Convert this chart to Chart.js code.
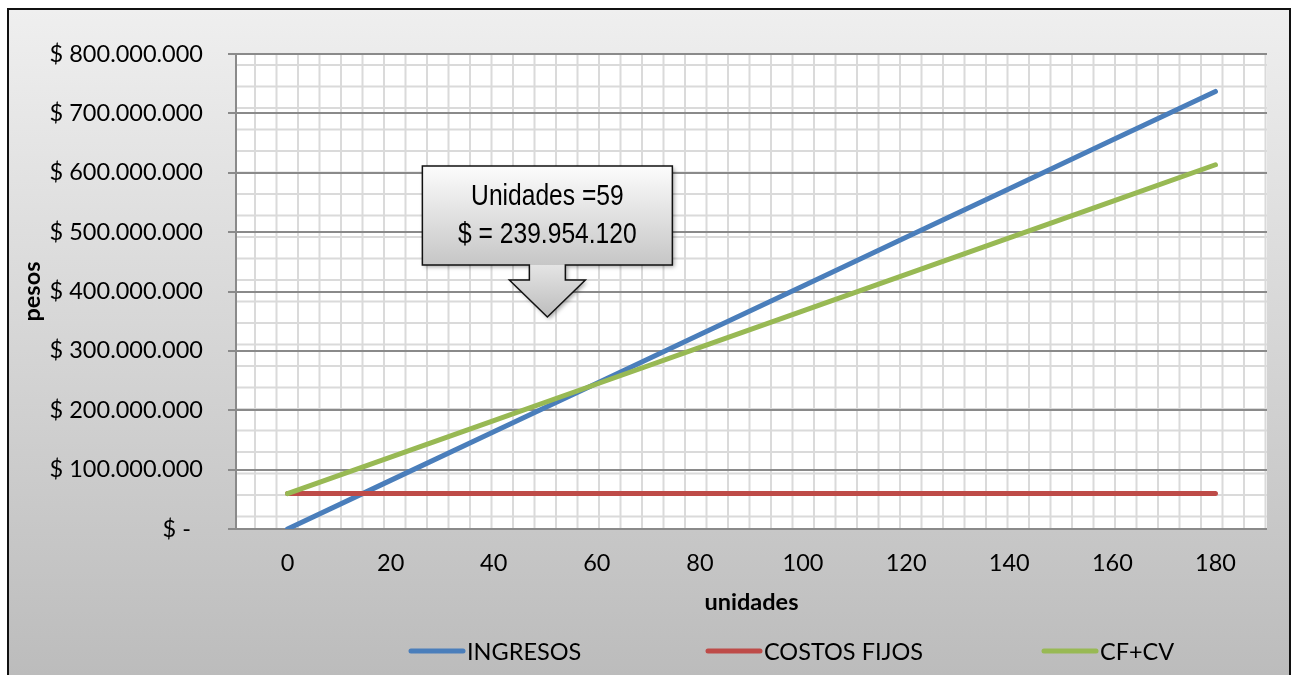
<!DOCTYPE html>
<html>
<head>
<meta charset="utf-8">
<script src="https://cdn.jsdelivr.net/npm/chart.js@4.4.0/dist/chart.umd.min.js"></script>
<style>
    body { margin: 0; background: #fff; }
    #marco {
        position: absolute; left: 7px; top: 8px; width: 1280px; height: 700px;
        border: 2px solid #111;
        background: linear-gradient(to bottom, #efefef 0px, #bcbcbc 665px);
    }
    #myChart { position: absolute; left: 0; top: 0; }
</style>
</head>
<body>
<div id="marco"></div>
<canvas id="myChart" width="1295" height="675"></canvas>
<script>

const unidades = ['0', '20', '40', '60', '80', '100', '120', '140', '160', '180']
const ingresos = [0, 81880000, 163760000, 245640000, 327520000, 409400000, 491280000, 573160000, 655040000, 736920000]
const costosFijos = [59600000, 59600000, 59600000, 59600000, 59600000, 59600000, 59600000, 59600000, 59600000, 59600000]
const cfMasCv = [59600000, 121140000, 182680000, 244220000, 305760000, 367300000, 428840000, 490380000, 551920000, 613460000]
const ticksPesos = [0, 100000000, 200000000, 300000000, 400000000, 500000000, 600000000, 700000000, 800000000]

// punto de equilibrio
const equilibrioUnidades = 59
const equilibrioPesos = 239954120

const FUENTE = 'Lato, "Open Sans", sans-serif'
const TAM = 23.5
const posLeyenda = [409, 706, 1042]

const miles = (v) => String(v).replace(/\B(?=(\d{3})+(?!\d))/g, '.')
const formatoPesos = (v) => v === 0 ? '$ -  ' : '$ ' + miles(v)

// fondo blanco con cuadricula fina del area de trazado
const cuadricula = {
    id: 'cuadricula',
    beforeDraw(chart) {
        const { ctx, chartArea: a } = chart
        ctx.save()
        ctx.fillStyle = '#fff'
        ctx.fillRect(a.left, a.top, a.right - a.left, a.bottom - a.top)
        ctx.beginPath()
        ctx.rect(a.left, a.top, a.right - a.left, a.bottom - a.top)
        ctx.clip()
        ctx.strokeStyle = '#dadada'
        ctx.lineWidth = 2
        ctx.beginPath()
        for (let x = a.left + 19; x <= a.right + 1; x += 21.5) {
            ctx.moveTo(x, a.top); ctx.lineTo(x, a.bottom)
        }
        for (let y = a.top + 11; y <= a.bottom; y += 21.5) {
            ctx.moveTo(a.left, y); ctx.lineTo(a.right, y)
        }
        ctx.stroke()
        ctx.restore()
    }
}

// flecha con el punto de equilibrio
const globo = {
    id: 'globo',
    afterDatasetsDraw(chart) {
        const { ctx, scales } = chart
        const tx = scales.x.getPixelForValue(2.52)
        const ty = scales.y.getPixelForValue(357000000)

        const caja = new Path2D()
        caja.rect(tx - 125, ty - 151, 250, 99)
        const flecha = new Path2D()
        flecha.moveTo(tx - 18, ty - 52)
        flecha.lineTo(tx + 18, ty - 52)
        flecha.lineTo(tx + 18, ty - 37)
        flecha.lineTo(tx + 38, ty - 37)
        flecha.lineTo(tx, ty)
        flecha.lineTo(tx - 38, ty - 37)
        flecha.lineTo(tx - 18, ty - 37)
        flecha.closePath()

        const borde = new Path2D()
        borde.moveTo(tx - 125, ty - 151)
        borde.lineTo(tx + 125, ty - 151)
        borde.lineTo(tx + 125, ty - 52)
        borde.lineTo(tx + 18, ty - 52)
        borde.lineTo(tx + 18, ty - 37)
        borde.lineTo(tx + 38, ty - 37)
        borde.lineTo(tx, ty)
        borde.lineTo(tx - 38, ty - 37)
        borde.lineTo(tx - 18, ty - 37)
        borde.lineTo(tx - 18, ty - 52)
        borde.lineTo(tx - 125, ty - 52)
        borde.closePath()

        ctx.save()
        ctx.shadowColor = 'rgba(0,0,0,0.35)'
        ctx.shadowBlur = 4
        ctx.shadowOffsetX = 2
        ctx.shadowOffsetY = 2
        ctx.fillStyle = '#d0d0d0'
        ctx.fill(borde)
        ctx.shadowColor = 'transparent'

        const g1 = ctx.createLinearGradient(0, ty - 151, 0, ty - 52)
        g1.addColorStop(0, '#fcfcfc')
        g1.addColorStop(1, '#c6c6c6')
        ctx.fillStyle = g1
        ctx.fill(caja)
        const g2 = ctx.createLinearGradient(0, ty - 52, 0, ty)
        g2.addColorStop(0, '#e4e4e4')
        g2.addColorStop(1, '#bdbdbd')
        ctx.fillStyle = g2
        ctx.fill(flecha)

        ctx.strokeStyle = '#111'
        ctx.lineWidth = 1.5
        ctx.stroke(borde)

        ctx.fillStyle = '#000'
        ctx.textAlign = 'center'
        ctx.textBaseline = 'alphabetic'
        ctx.font = '30px "Liberation Sans", Arial, sans-serif'
        ctx.translate(tx, 0)
        ctx.scale(0.82, 1)
        ctx.fillText('Unidades =' + equilibrioUnidades, 0, ty - 112)
        ctx.fillText('$ = ' + miles(equilibrioPesos), 0, ty - 74)
        ctx.restore()
    }
}

// leyenda abajo, una columna por serie
const leyenda = {
    id: 'leyenda',
    afterDraw(chart) {
        const ctx = chart.ctx
        ctx.save()
        ctx.font = TAM + 'px ' + FUENTE
        ctx.textBaseline = 'middle'
        ctx.textAlign = 'left'
        chart.data.datasets.forEach((ds, i) => {
            const x = posLeyenda[i], y = 651
            ctx.strokeStyle = ds.borderColor
            ctx.lineWidth = 5
            ctx.lineCap = 'round'
            ctx.beginPath()
            ctx.moveTo(x + 2, y)
            ctx.lineTo(x + 54, y)
            ctx.stroke()
            ctx.fillStyle = '#000'
            ctx.fillText(ds.label, x + 58, y + 1)
        })
        ctx.restore()
    }
}

const lineaBase = {
    borderWidth: 5,
    pointRadius: 0,
    pointHoverRadius: 0,
    borderCapStyle: 'round',
    borderJoinStyle: 'round',
    tension: 0,
    fill: false
}

var ctx = document.getElementById('myChart')
var myChart = new Chart(ctx, {
    type: 'line',
    data: {
        labels: unidades,
        datasets: [
            { ...lineaBase, label: 'INGRESOS', data: ingresos, borderColor: '#4a7ebb', backgroundColor: '#4a7ebb', order: 3 },
            { ...lineaBase, label: 'COSTOS FIJOS', data: costosFijos, borderColor: '#be4b48', backgroundColor: '#be4b48', order: 2 },
            { ...lineaBase, label: 'CF+CV', data: cfMasCv, borderColor: '#98b954', backgroundColor: '#98b954', order: 1 }
        ]
    },
    options: {
        responsive: false,
        animation: false,
        layout: { padding: { left: 0, top: 54, right: 28, bottom: 0 } },
        plugins: {
            legend: { display: false },
            tooltip: { enabled: false }
        },
        scales: {
            x: {
                type: 'category',
                offset: true,
                grid: { display: false },
                border: { display: false },
                ticks: {
                    color: '#000',
                    font: { family: FUENTE, size: TAM },
                    padding: 12,
                    maxRotation: 0,
                    autoSkip: false
                },
                title: {
                    display: true,
                    text: 'unidades',
                    color: '#000',
                    font: { family: FUENTE, size: TAM, weight: 'bold' },
                    padding: { top: 0, bottom: 58 }
                },
                afterFit: (s) => { s.height = 146 }
            },
            y: {
                min: 0,
                max: 800000000,
                afterBuildTicks: (s) => { s.ticks = ticksPesos.map(v => ({ value: v })) },
                grid: { color: '#8a8a8a', lineWidth: 2, tickLength: 8 },
                border: { display: true, color: '#8a8a8a', width: 2 },
                ticks: {
                    callback: formatoPesos,
                    color: '#000',
                    font: { family: FUENTE, size: TAM },
                    padding: 25
                },
                title: {
                    display: true,
                    text: 'pesos',
                    color: '#000',
                    font: { family: FUENTE, size: TAM, weight: 'bold' },
                    padding: { top: 18, bottom: 0 }
                },
                afterFit: (s) => { s.width = 236 }
            }
        }
    },
    plugins: [cuadricula, globo, leyenda]
})

</script>
</body>
</html>
